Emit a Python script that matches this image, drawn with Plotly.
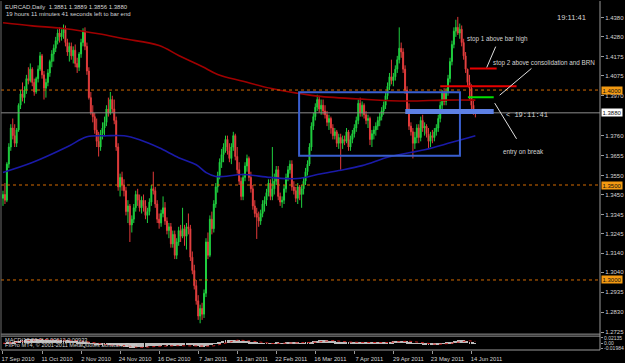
import plotly.graph_objects as go
import pandas as pd

# ---------------- data (EURCAD daily) ----------------
date_labels = ["17 Sep 2010", "11 Oct 2010", "2 Nov 2010", "24 Nov 2010", "16 Dec 2010",
               "7 Jan 2011", "31 Jan 2011", "22 Feb 2011", "16 Mar 2011", "7 Apr 2011",
               "29 Apr 2011", "23 May 2011", "14 Jun 2011"]
date_label_bars = [0, 20, 40, 60, 80, 100, 120, 140, 160, 180, 200, 220, 240]

opens = [
    1.3430, 1.3450, 1.3420, 1.3610, 1.3700, 1.3800, 1.3760, 1.3720, 1.3790, 1.3920,
    1.3980, 1.3960, 1.4000, 1.4060, 1.4050, 1.4110, 1.4040, 1.3990, 1.4060, 1.4110,
    1.4180, 1.4080, 1.4010, 1.4040, 1.4090, 1.4150, 1.4190, 1.4220, 1.4260, 1.4300,
    1.4280, 1.4300, 1.4320, 1.4250, 1.4200, 1.4230, 1.4180, 1.4210, 1.4140, 1.4120,
    1.4190, 1.4250, 1.4310, 1.4230, 1.4100, 1.3960, 1.3880, 1.3860, 1.3790, 1.3730,
    1.3700, 1.3770, 1.3800, 1.3830, 1.3900, 1.3880, 1.3950, 1.3900, 1.3840, 1.3700,
    1.3490, 1.3540, 1.3500, 1.3470, 1.3360, 1.3390, 1.3290, 1.3320, 1.3380, 1.3450,
    1.3420, 1.3380, 1.3420, 1.3390, 1.3340, 1.3360, 1.3410, 1.3480, 1.3470, 1.3400,
    1.3320, 1.3300, 1.3350, 1.3380, 1.3310, 1.3260, 1.3280, 1.3190, 1.3240, 1.3130,
    1.3200, 1.3260, 1.3230, 1.3270, 1.3230, 1.3280, 1.3270, 1.3120, 1.3050, 1.2970,
    1.2890, 1.2810, 1.2850, 1.2820, 1.2930, 1.3200, 1.3130, 1.3320, 1.3270, 1.3400,
    1.3490, 1.3550, 1.3620, 1.3660, 1.3700, 1.3740, 1.3680, 1.3640, 1.3700, 1.3760,
    1.3650, 1.3580, 1.3520, 1.3440, 1.3540, 1.3600, 1.3640, 1.3540, 1.3480, 1.3390,
    1.3350, 1.3330, 1.3310, 1.3350, 1.3400, 1.3420, 1.3460, 1.3510, 1.3440, 1.3480,
    1.3520, 1.3580, 1.3440, 1.3410, 1.3420, 1.3480, 1.3540, 1.3580, 1.3610, 1.3490,
    1.3470, 1.3430, 1.3490, 1.3450, 1.3480, 1.3520, 1.3570, 1.3610, 1.3700, 1.3810,
    1.3860, 1.3910, 1.3950, 1.3900, 1.3920, 1.3890, 1.3870, 1.3830, 1.3850, 1.3800,
    1.3760, 1.3780, 1.3720, 1.3750, 1.3720, 1.3740, 1.3730, 1.3780, 1.3700, 1.3740,
    1.3770, 1.3800, 1.3840, 1.3930, 1.3880, 1.3920, 1.3870, 1.3840, 1.3850, 1.3740,
    1.3770, 1.3790, 1.3810, 1.3840, 1.3860, 1.3890, 1.3920, 1.3970, 1.4020, 1.4070,
    1.4050, 1.4070, 1.4110, 1.4160, 1.4220, 1.4200, 1.4110, 1.4000, 1.3900, 1.3810,
    1.3780, 1.3720, 1.3750, 1.3800, 1.3750, 1.3840, 1.3800, 1.3810, 1.3770, 1.3730,
    1.3760, 1.3750, 1.3780, 1.3800, 1.3850, 1.3920, 1.3990, 1.3940, 1.3990, 1.4060,
    1.4150, 1.4240, 1.4310, 1.4330, 1.4300, 1.4320, 1.4250, 1.4180, 1.4110, 1.4040,
    1.4010, 1.3920, 1.3881]
highs = [
    1.3470, 1.3510, 1.3620, 1.3720, 1.3820, 1.3850, 1.3820, 1.3800, 1.3930, 1.4000,
    1.4040, 1.4020, 1.4080, 1.4120, 1.4140, 1.4120, 1.4060, 1.4070, 1.4130, 1.4200,
    1.4190, 1.4100, 1.4060, 1.4110, 1.4160, 1.4210, 1.4240, 1.4280, 1.4320, 1.4330,
    1.4320, 1.4345, 1.4340, 1.4270, 1.4250, 1.4250, 1.4230, 1.4240, 1.4170, 1.4200,
    1.4270, 1.4325, 1.4330, 1.4250, 1.4120, 1.3990, 1.3920, 1.3880, 1.3850, 1.3780,
    1.3790, 1.3830, 1.3860, 1.3920, 1.3960, 1.3990, 1.3970, 1.3950, 1.3860, 1.3720,
    1.3560, 1.3570, 1.3530, 1.3490, 1.3420, 1.3400, 1.3340, 1.3400, 1.3470, 1.3480,
    1.3450, 1.3440, 1.3450, 1.3420, 1.3380, 1.3430, 1.3500, 1.3570, 1.3490, 1.3420,
    1.3350, 1.3370, 1.3440, 1.3410, 1.3330, 1.3300, 1.3300, 1.3260, 1.3260, 1.3220,
    1.3280, 1.3290, 1.3380, 1.3290, 1.3300, 1.3350, 1.3290, 1.3150, 1.3080, 1.3000,
    1.2920, 1.2870, 1.2880, 1.2950, 1.3220, 1.3250, 1.3340, 1.3360, 1.3420, 1.3510,
    1.3570, 1.3640, 1.3690, 1.3720, 1.3760, 1.3760, 1.3720, 1.3720, 1.3780, 1.3770,
    1.3700, 1.3620, 1.3540, 1.3560, 1.3620, 1.3660, 1.3650, 1.3570, 1.3500, 1.3420,
    1.3380, 1.3360, 1.3370, 1.3420, 1.3440, 1.3480, 1.3530, 1.3530, 1.3700, 1.3560,
    1.3600, 1.3600, 1.3460, 1.3440, 1.3500, 1.3560, 1.3600, 1.3630, 1.3630, 1.3520,
    1.3490, 1.3510, 1.3500, 1.3500, 1.3540, 1.3590, 1.3630, 1.3720, 1.3830, 1.3880,
    1.3930, 1.3975, 1.3970, 1.3950, 1.3950, 1.3920, 1.3890, 1.3870, 1.3860, 1.3820,
    1.3800, 1.3790, 1.3770, 1.3770, 1.3760, 1.3760, 1.3800, 1.3790, 1.3760, 1.3790,
    1.3820, 1.3860, 1.3950, 1.3960, 1.3940, 1.3930, 1.3890, 1.3870, 1.3860, 1.3790,
    1.3810, 1.3830, 1.3860, 1.3880, 1.3910, 1.3940, 1.3990, 1.4040, 1.4090, 1.4160,
    1.4090, 1.4130, 1.4180, 1.4330, 1.4250, 1.4220, 1.4130, 1.4020, 1.3930, 1.3830,
    1.3800, 1.3780, 1.3820, 1.3820, 1.3860, 1.3870, 1.3830, 1.3820, 1.3800, 1.3780,
    1.3790, 1.3800, 1.3820, 1.3870, 1.3940, 1.4000, 1.4010, 1.4010, 1.4080, 1.4170,
    1.4260, 1.4330, 1.4370, 1.4385, 1.4350, 1.4340, 1.4270, 1.4200, 1.4112, 1.4080,
    1.4030, 1.3950, 1.3889]
lows = [
    1.3390, 1.3400, 1.3410, 1.3590, 1.3680, 1.3740, 1.3700, 1.3700, 1.3780, 1.3900,
    1.3940, 1.3930, 1.3980, 1.4030, 1.4040, 1.4020, 1.3970, 1.3980, 1.4040, 1.4100,
    1.4060, 1.3950, 1.3960, 1.4020, 1.4070, 1.4120, 1.4150, 1.4200, 1.4240, 1.4250,
    1.4260, 1.4270, 1.4230, 1.4180, 1.4150, 1.4160, 1.4140, 1.4120, 1.4090, 1.4100,
    1.4170, 1.4230, 1.4210, 1.4080, 1.3950, 1.3870, 1.3830, 1.3770, 1.3700, 1.3650,
    1.3680, 1.3740, 1.3760, 1.3810, 1.3860, 1.3870, 1.3880, 1.3820, 1.3680, 1.3470,
    1.3440, 1.3470, 1.3440, 1.3340, 1.3300, 1.3200, 1.3250, 1.3300, 1.3360, 1.3390,
    1.3360, 1.3350, 1.3360, 1.3320, 1.3300, 1.3340, 1.3390, 1.3450, 1.3380, 1.3300,
    1.3270, 1.3280, 1.3330, 1.3290, 1.3240, 1.3220, 1.3170, 1.3170, 1.3110, 1.3110,
    1.3180, 1.3200, 1.3220, 1.3180, 1.3160, 1.3240, 1.3100, 1.3030, 1.2950, 1.2870,
    1.2790, 1.2772, 1.2790, 1.2800, 1.2910, 1.3110, 1.3120, 1.3240, 1.3250, 1.3380,
    1.3460, 1.3530, 1.3590, 1.3620, 1.3670, 1.3660, 1.3620, 1.3610, 1.3680, 1.3630,
    1.3560, 1.3500, 1.3420, 1.3420, 1.3520, 1.3570, 1.3520, 1.3460, 1.3370, 1.3330,
    1.3216, 1.3280, 1.3290, 1.3330, 1.3360, 1.3390, 1.3440, 1.3420, 1.3420, 1.3450,
    1.3500, 1.3420, 1.3390, 1.3380, 1.3400, 1.3460, 1.3520, 1.3560, 1.3470, 1.3450,
    1.3410, 1.3400, 1.3420, 1.3380, 1.3450, 1.3500, 1.3550, 1.3600, 1.3680, 1.3790,
    1.3840, 1.3890, 1.3880, 1.3870, 1.3870, 1.3850, 1.3810, 1.3790, 1.3770, 1.3740,
    1.3740, 1.3700, 1.3690, 1.3580, 1.3690, 1.3710, 1.3720, 1.3680, 1.3680, 1.3720,
    1.3750, 1.3780, 1.3820, 1.3860, 1.3860, 1.3850, 1.3820, 1.3800, 1.3710, 1.3700,
    1.3740, 1.3760, 1.3790, 1.3810, 1.3840, 1.3870, 1.3900, 1.3950, 1.4000, 1.4030,
    1.4020, 1.4050, 1.4090, 1.4140, 1.4170, 1.4090, 1.3980, 1.3880, 1.3790, 1.3760,
    1.3640, 1.3690, 1.3720, 1.3720, 1.3730, 1.3780, 1.3760, 1.3750, 1.3690, 1.3700,
    1.3720, 1.3730, 1.3760, 1.3780, 1.3830, 1.3900, 1.3920, 1.3920, 1.3970, 1.4040,
    1.4130, 1.4220, 1.4280, 1.4290, 1.4270, 1.4230, 1.4160, 1.4090, 1.4020, 1.3950,
    1.3900, 1.3870, 1.3856]
closes = [
    1.3450, 1.3420, 1.3610, 1.3700, 1.3800, 1.3760, 1.3720, 1.3790, 1.3920, 1.3980,
    1.3960, 1.4000, 1.4060, 1.4050, 1.4110, 1.4040, 1.3990, 1.4060, 1.4110, 1.4180,
    1.4080, 1.4010, 1.4040, 1.4090, 1.4150, 1.4190, 1.4220, 1.4260, 1.4300, 1.4280,
    1.4300, 1.4320, 1.4250, 1.4200, 1.4230, 1.4180, 1.4210, 1.4140, 1.4120, 1.4190,
    1.4250, 1.4310, 1.4230, 1.4100, 1.3960, 1.3880, 1.3860, 1.3790, 1.3730, 1.3700,
    1.3770, 1.3800, 1.3830, 1.3900, 1.3880, 1.3950, 1.3900, 1.3840, 1.3700, 1.3490,
    1.3540, 1.3500, 1.3470, 1.3360, 1.3390, 1.3290, 1.3320, 1.3380, 1.3450, 1.3420,
    1.3380, 1.3420, 1.3390, 1.3340, 1.3360, 1.3410, 1.3480, 1.3470, 1.3400, 1.3320,
    1.3300, 1.3350, 1.3380, 1.3310, 1.3260, 1.3280, 1.3190, 1.3240, 1.3130, 1.3200,
    1.3260, 1.3230, 1.3270, 1.3230, 1.3280, 1.3270, 1.3120, 1.3050, 1.2970, 1.2890,
    1.2810, 1.2850, 1.2820, 1.2930, 1.3200, 1.3130, 1.3320, 1.3270, 1.3400, 1.3490,
    1.3550, 1.3620, 1.3660, 1.3700, 1.3740, 1.3680, 1.3640, 1.3700, 1.3760, 1.3650,
    1.3580, 1.3520, 1.3440, 1.3540, 1.3600, 1.3640, 1.3540, 1.3480, 1.3390, 1.3350,
    1.3330, 1.3310, 1.3350, 1.3400, 1.3420, 1.3460, 1.3510, 1.3440, 1.3480, 1.3520,
    1.3580, 1.3440, 1.3410, 1.3420, 1.3480, 1.3540, 1.3580, 1.3610, 1.3490, 1.3470,
    1.3430, 1.3490, 1.3450, 1.3480, 1.3520, 1.3570, 1.3610, 1.3700, 1.3810, 1.3860,
    1.3910, 1.3950, 1.3900, 1.3920, 1.3890, 1.3870, 1.3830, 1.3850, 1.3800, 1.3760,
    1.3780, 1.3720, 1.3750, 1.3720, 1.3740, 1.3730, 1.3780, 1.3700, 1.3740, 1.3770,
    1.3800, 1.3840, 1.3930, 1.3880, 1.3920, 1.3870, 1.3840, 1.3850, 1.3740, 1.3770,
    1.3790, 1.3810, 1.3840, 1.3860, 1.3890, 1.3920, 1.3970, 1.4020, 1.4070, 1.4050,
    1.4070, 1.4110, 1.4160, 1.4220, 1.4200, 1.4110, 1.4000, 1.3900, 1.3810, 1.3780,
    1.3720, 1.3750, 1.3800, 1.3750, 1.3840, 1.3800, 1.3810, 1.3770, 1.3730, 1.3760,
    1.3750, 1.3780, 1.3800, 1.3850, 1.3920, 1.3990, 1.3940, 1.3990, 1.4060, 1.4150,
    1.4240, 1.4310, 1.4330, 1.4300, 1.4320, 1.4250, 1.4180, 1.4110, 1.4040, 1.4010,
    1.3920, 1.3881, 1.3880]

# moving averages read at a few bars
red_ma_bars = [0, 15, 32, 49, 62, 80, 90, 102, 110, 123, 137, 151, 161, 184, 207, 226, 242]
red_ma_vals = [1.4354, 1.4338, 1.4323, 1.4296, 1.4270, 1.4234, 1.4182, 1.4124, 1.4082,
               1.4046, 1.4009, 1.3983, 1.3968, 1.3952, 1.3942, 1.3947, 1.3947]
blue_ma_bars = [0, 15, 33, 43, 53, 62, 70, 80, 90, 99, 104, 109, 123, 137, 151, 161, 172,
                184, 198, 216, 229, 238, 242]
blue_ma_vals = [1.3566, 1.3618, 1.3701, 1.3754, 1.3759, 1.3759, 1.3738, 1.3696, 1.3644,
                1.3607, 1.3566, 1.3545, 1.3555, 1.3540, 1.3534, 1.3555, 1.3576, 1.3602,
                1.3649, 1.3686, 1.3722, 1.3748, 1.3759]

price_ticks = [1.4380, 1.4280, 1.4175, 1.4075, 1.3970, 1.3760, 1.3655, 1.3550,
               1.3450, 1.3345, 1.3245, 1.3140, 1.3040, 1.2935, 1.2830, 1.2725]
round_levels = [1.4000, 1.3500, 1.3000]
bid_price = 1.3880
macd_ticks = [0.02135, 0.0, -0.01984]
macd_tick_text = ["0.02135", "0.00", "-0.01984"]

assert len(opens) == len(highs) == len(lows) == len(closes) == 243
bars = list(range(len(closes)))

# MACD(12,26,9) computed from the closes
cs = pd.Series(closes)
macd_main = cs.ewm(span=12, adjust=False).mean() - cs.ewm(span=26, adjust=False).mean()
macd_signal = macd_main.rolling(9, min_periods=1).mean()

# ---------------- layout geometry ----------------
W, H = 625, 363
ML, MR, MT, MB = 1, 21, 2, 11
PW, PH = W - ML - MR, H - MT - MB


def pxx(x):
    return (x - ML) / PW


def pxy(y):
    return (H - MB - y) / PH


FONT = "Liberation Sans, Arial, sans-serif"
TXT = "#d4d4d4"

fig = go.Figure()
fig.add_trace(go.Candlestick(
    x=bars, open=opens, high=highs, low=lows, close=closes,
    increasing=dict(line=dict(color="#1fcf3f", width=1), fillcolor="#27e04a"),
    decreasing=dict(line=dict(color="#e23a3a", width=1), fillcolor="#ff6f6f"),
    whiskerwidth=0, showlegend=False, hoverinfo="skip", xaxis="x", yaxis="y"))
fig.add_trace(go.Scatter(x=red_ma_bars, y=red_ma_vals, mode="lines", line=dict(color="#a00000", width=1.6, shape="spline"),
                         showlegend=False, hoverinfo="skip", xaxis="x", yaxis="y"))
fig.add_trace(go.Scatter(x=blue_ma_bars, y=blue_ma_vals, mode="lines", line=dict(color="#1a1aa8", width=1.6, shape="spline"),
                         showlegend=False, hoverinfo="skip", xaxis="x", yaxis="y"))
fig.add_trace(go.Bar(x=bars, y=macd_main, marker=dict(color="#bdbdbd", line=dict(width=0)), width=0.45,
                     showlegend=False, hoverinfo="skip", xaxis="x2", yaxis="y2"))
fig.add_trace(go.Scatter(x=bars, y=macd_signal, mode="lines", line=dict(color="#d02020", width=1, dash="dot"),
                         showlegend=False, hoverinfo="skip", xaxis="x2", yaxis="y2"))

XR = [(1 - 3) / 1.965, (604 - 3) / 1.965]
YR = [1.4380 - (336 - 17) * 0.000522, 1.4380 - (2 - 17) * 0.000522]

shapes = []
for lv in round_levels:
    shapes.append(dict(type="line", xref="paper", yref="y", x0=0, x1=1, y0=lv, y1=lv,
                       line=dict(color="#d46a00", width=1, dash="dot")))
shapes.append(dict(type="line", xref="paper", yref="y", x0=0, x1=1, y0=bid_price, y1=bid_price,
                   line=dict(color="#8c8c8c", width=1)))
# consolidation box
shapes.append(dict(type="rect", xref="x", yref="y", x0=151.7, x1=234.1, y0=1.3654, y1=1.3989,
                   line=dict(color="#3a5fd0", width=2)))
# entry band
shapes.append(dict(type="rect", xref="x", yref="y", x0=206.1, x1=251.4, y0=1.3874, y1=1.3900,
                   fillcolor="#5d80e4", line=dict(width=0)))
# stop / entry level lines
shapes.append(dict(type="line", xref="x", yref="y", x0=239.2, x1=252.9, y0=1.4114, y1=1.4114,
                   line=dict(color="#e80000", width=2)))
shapes.append(dict(type="line", xref="x", yref="y", x0=224.0, x1=263.1, y0=1.4020, y1=1.4020,
                   line=dict(color="#e80000", width=2)))
shapes.append(dict(type="line", xref="x", yref="y", x0=238.2, x1=251.4, y0=1.3962, y1=1.3962,
                   line=dict(color="#00e000", width=2)))
# pointer lines
for (xa, ya, xb, yb) in [(499, 46, 490, 67), (535, 68, 503, 95), (498, 103, 520, 139)]:
    shapes.append(dict(type="line", xref="paper", yref="paper", x0=pxx(xa), y0=pxy(ya), x1=pxx(xb), y1=pxy(yb),
                       line=dict(color="#e0e0e0", width=1)))
# frame lines
FR = "#9a9a9a"
for yy in [336, 338, 352]:
    shapes.append(dict(type="line", xref="paper", yref="paper", x0=0, x1=1, y0=pxy(yy), y1=pxy(yy),
                       line=dict(color=FR, width=1)))
shapes.append(dict(type="line", xref="paper", yref="paper", x0=1, x1=1, y0=0, y1=pxy(0), line=dict(color=FR, width=1)))
shapes.append(dict(type="line", xref="paper", yref="paper", x0=0, x1=0, y0=0, y1=pxy(0), line=dict(color="#6a6a6a", width=1)))

ann = []


def text(s, x, y, size=6.3, color=TXT, family=FONT, anchor="left"):
    ann.append(dict(text=s, xref="paper", yref="paper", x=pxx(x), y=pxy(y), xanchor=anchor, yanchor="middle",
                    showarrow=False, font=dict(family=family, size=size, color=color)))


text("EURCAD,Daily  1.3881 1.3889 1.3856 1.3880", 3, 6, size=6)
text("19 hours 11 minutes 41 seconds left to bar end", 4, 13, size=6)
text("19:11:41", 559, 17, size=7.6)
text("stop 1 above bar high", 468, 38)
text("stop 2 above consolidation and BRN", 494, 63)
text("&lt; 19:11:41", 507, 115, size=7, family="Liberation Mono, Courier New, monospace")
text("entry on break", 504, 152)
text("MACD(12,26,9) 0.00612 0.00933", 3, 342, size=5.6)
text("FxPro MT4, © 2001-2011 MetaQuotes Software Corp.", 3, 347, size=5.6)

# highlighted price labels on the axis
for lv in round_levels:
    ann.append(dict(text=f"{lv:.4f}", xref="paper", yref="y", x=1, y=lv, xanchor="left", yanchor="middle",
                    xshift=1, showarrow=False, bgcolor="#f39a12", width=19, align="left", borderpad=0.5,
                    font=dict(family=FONT, size=6, color="#101010")))
ann.append(dict(text=f"{bid_price:.4f}", xref="paper", yref="y", x=1, y=bid_price, xanchor="left", yanchor="middle",
                xshift=1, showarrow=False, bgcolor="#ffffff", width=19, align="left", borderpad=0.5,
                font=dict(family=FONT, size=6, color="#101010")))

fig.update_layout(
    width=W, height=H, autosize=False,
    margin=dict(l=ML, r=MR, t=MT, b=MB, pad=0),
    paper_bgcolor="#000000", plot_bgcolor="#000000",
    shapes=shapes, annotations=ann, bargap=0,
    xaxis=dict(domain=[0, 1], range=XR, anchor="y", showticklabels=False, showgrid=False, zeroline=False,
               showline=False, ticks="", rangeslider=dict(visible=False), fixedrange=True),
    xaxis2=dict(domain=[0, 1], range=XR, anchor="y2", matches="x", showgrid=False, zeroline=False,
                tickvals=date_label_bars, ticktext=date_labels, ticks="outside", ticklen=3, tickcolor=FR,
                tickfont=dict(family=FONT, size=5.8, color=TXT), ticklabelshift=15, ticklabelstandoff=0,
                showline=False),
    yaxis=dict(domain=[pxy(336), 1], range=YR, side="right", anchor="x", showgrid=False, zeroline=False,
               tickvals=price_ticks, ticktext=[f"{v:.4f}" for v in price_ticks], ticks="outside", ticklen=3,
               tickcolor=FR, tickfont=dict(family=FONT, size=6, color=TXT), showline=False),
    yaxis2=dict(domain=[0, pxy(338)], range=[-0.026, 0.028], side="right", anchor="x2", showgrid=False,
                zeroline=False, tickvals=macd_ticks, ticktext=macd_tick_text, ticks="outside", ticklen=2,
                tickcolor=FR, tickfont=dict(family=FONT, size=5, color=TXT), showline=False),
)

fig.write_html("out.html", config={"displayModeBar": False})
